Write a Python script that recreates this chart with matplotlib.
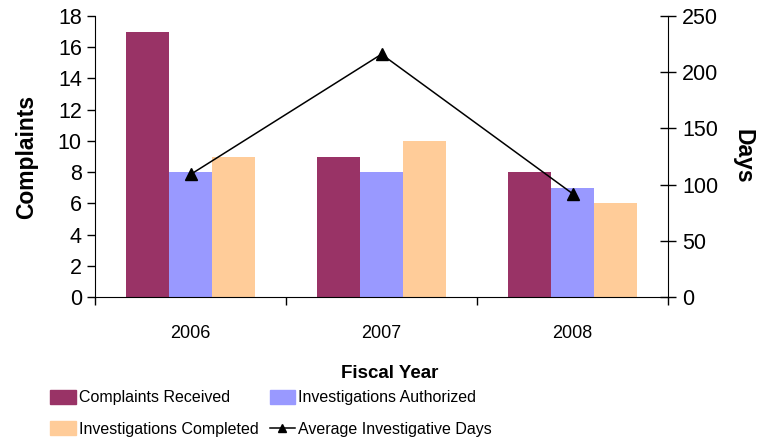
import matplotlib
matplotlib.use("Agg")
import matplotlib.pyplot as plt
from matplotlib.patches import Patch
from matplotlib.lines import Line2D
import numpy as np

years = ["2006", "2007", "2008"]
complaints_received = [17, 9, 8]
investigations_authorized = [8, 8, 7]
investigations_completed = [9, 10, 6]
avg_days = [109, 216, 92]

base = "Liberation Sans"
c1, c2, c3 = "#993366", "#9999FF", "#FFCC99"

fig = plt.figure(figsize=(7.68, 4.44), dpi=100)
ax = fig.add_axes([95/768, 1-297/444, (668-95)/768, (297-16)/444])
x = np.arange(len(years))
w = 0.225
ax.bar(x - w, complaints_received, w, color=c1, zorder=2)
ax.bar(x, investigations_authorized, w, color=c2, zorder=2)
ax.bar(x + w, investigations_completed, w, color=c3, zorder=2)
ax.set_ylim(0, 18)
ax.set_yticks(range(0, 19, 2))
ax.set_xlim(-0.5, 2.5)
ax.set_xticks(x)
ax.set_xticklabels(years, fontfamily=base, fontsize=13)
ax.set_xticks([-0.5, 0.5, 1.5, 2.5], minor=True)
ax.tick_params(axis="x", which="major", length=0, pad=20)
ax.tick_params(axis="x", which="minor", length=6, direction="out", width=1)
ax.tick_params(axis="y", length=6, direction="out", width=1, labelsize=15.5)
for lab in ax.get_yticklabels():
    lab.set_fontfamily(base)
ax.spines["top"].set_visible(False)
ax.spines["right"].set_visible(False)
ax.set_ylabel("Complaints", fontfamily=base, fontweight="bold", fontsize=16.5, labelpad=14)

ax2 = ax.twinx()
ax2.plot(x, avg_days, color="black", lw=1.1, marker="^", markersize=8, zorder=5)
ax2.set_ylim(0, 250)
ax2.set_yticks(range(0, 251, 50))
ax2.tick_params(axis="y", length=12, direction="inout", width=1, labelsize=15.5, pad=4)
for lab in ax2.get_yticklabels():
    lab.set_fontfamily(base)
ax2.spines["top"].set_visible(False)
ax2.spines["left"].set_visible(False)
ax2.spines["bottom"].set_visible(False)
ax2.set_ylabel("Days", fontfamily=base, fontweight="bold", fontsize=16.5, rotation=270, labelpad=26)

fig.text(0.5075, 1-373/444, "Fiscal Year", ha="center", va="center",
         fontfamily=base, fontweight="bold", fontsize=13.5)

# column-major order so rows read: CR | IA, IC | AID
handles = [Patch(color=c1), Patch(color=c3), Patch(color=c2),
           Line2D([], [], color="black", lw=1.1, marker="^", markersize=6)]
labels = ["Complaints Received", "Investigations Completed",
          "Investigations Authorized", "Average Investigative Days"]
fig.legend(handles, labels, ncol=2, loc="upper left", bbox_to_anchor=(50/768, 1-390/444),
           frameon=False, prop={"family": base, "size": 11.5}, handlelength=1.6,
           handleheight=0.95, handletextpad=0.2, columnspacing=0.7, labelspacing=1.0,
           borderpad=0, borderaxespad=0)

fig.savefig("out.png", dpi=100)
